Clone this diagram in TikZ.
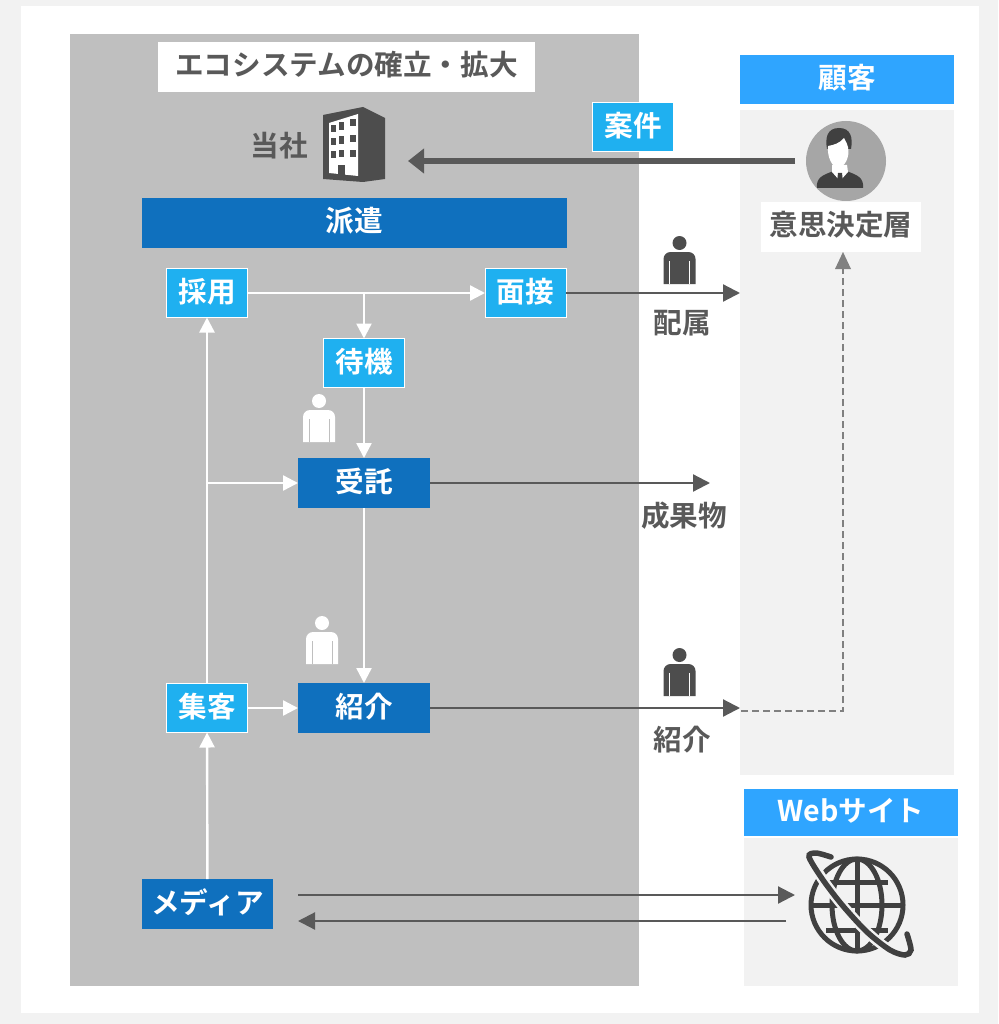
\documentclass[tikz,border=0pt]{standalone}
\usepackage{fontspec}
\setmainfont{Noto Sans CJK JP}[BoldFont={Noto Sans CJK JP Bold}]
\usepackage{tikz}
\usetikzlibrary{arrows.meta}

\definecolor{textGray}{HTML}{595959}
\definecolor{panelGray}{HTML}{F2F2F2}
\definecolor{mainGray}{HTML}{BFBFBF}
\definecolor{iconGray}{HTML}{404040}
\definecolor{iconDark}{HTML}{4D4D4D}
\definecolor{deepBlue}{HTML}{0F70BE}
\definecolor{lightBlue}{HTML}{1FB0F0}
\definecolor{headBlue}{HTML}{2FA5FF}

\tikzset{
  label/.style={font=\fontsize{28.6}{30}\selectfont\bfseries, inner sep=0pt, outer sep=0pt, align=center, text height=24pt, text depth=6pt},
  grayLabel/.style={label, text=textGray},
  whiteBox/.style={label, fill=white, text=textGray, minimum height=50pt},
  lightBox/.style={label, fill=lightBlue, draw=white, line width=1pt, text=white, minimum width=81pt, minimum height=49pt},
  deepBox/.style={label, fill=deepBlue, text=white, minimum height=50pt},
  headBox/.style={label, fill=headBlue, text=white, minimum width=214pt},
  whiteFlow/.style={white, line width=2.4pt, -{Triangle[length=15pt,width=15pt]}},
  darkFlow/.style={textGray, line width=2.2pt, -{Triangle[length=17pt,width=17pt]}},
  dashFlow/.style={gray, line width=2pt, dashed, dash pattern=on 7pt off 4pt},
  pics/person/.style 2 args={code={
    \fill[#1] (0,-41) circle (7);
    \fill[#1] (-16,0) [rounded corners=7pt] -- (-16,-32) -- (16,-32) [sharp corners] -- (16,0) -- cycle;
    \draw[#2, line width=1pt] (-10,0) -- (-10,-23);
    \draw[#2, line width=1pt] (10,0) -- (10,-23);
  }},
}

\begin{document}
\begin{tikzpicture}[x=1pt,y=-1pt]
  \useasboundingbox (0,0) rectangle (998,1024);
  \fill[panelGray] (0,0) rectangle (998,1024);
  \fill[white] (21,6) rectangle (979,1013);
  \fill[mainGray] (70,34) rectangle (639,986);
  \fill[panelGray] (740,110) rectangle (954,775);
  \fill[panelGray] (744,838) rectangle (958,986);

  % titles
  \node[whiteBox, minimum width=377pt] (Title) at (346.5,67) {エコシステムの確立・拡大};
  \node[deepBox, minimum width=425pt] (Haken) at (354.5,223) {派遣};
  \node[headBox, minimum height=49pt] (Kokyaku) at (847,79.5) {顧客};
  \node[headBox, minimum height=47pt] (Web) at (851,812.5) {Webサイト};

  % company
  \node[grayLabel] (Tosha) at (279,148) {当社};
  \fill[iconDark] (323,115) -- (363,107) -- (385,118) -- (385,179) -- (363,182) -- (323,179) -- cycle;
  \fill[white] (329,123) -- (358,114) -- (358,176) -- (329,173) -- cycle;
  \foreach \winX/\winW/\rowA/\rowB/\rowC in {331/4.5/125/138/151, 338.5/5.5/122.5/136.5/150, 349.5/6.5/119/135/150}{
    \foreach \winY in {\rowA,\rowB,\rowC}{
      \fill[iconDark] (\winX,\winY) rectangle ++(\winW,7.5);
    }
  }
  \fill[iconDark] (338,165) rectangle (345,175);

  % customer
  \node[circle, fill=black!35, minimum size=80pt, inner sep=0pt, outer sep=0pt] (Avatar) at (846,161) {};
  \fill[iconGray] (817,188) .. controls (816,178) and (822,175) .. (834,171) -- (846,171) .. controls (858,175) and (864,178) .. (863,188) -- cycle;
  \fill[iconGray] (839,128) .. controls (827,128) and (825,138) .. (827,149) -- (851,149) .. controls (853,138) and (851,128) .. (839,128) -- cycle;
  \fill[white] (828,146) .. controls (834,145) and (840,143) .. (844,138) .. controls (846,141) and (847,144) .. (848,147) .. controls (850,157) and (845,167) .. (838,168) .. controls (832,167) and (827,157) .. (828,146) -- cycle;
  \fill[white] (832,165) -- (847,165) -- (848,172) -- (840,181) -- (832,172) -- cycle;
  \fill[iconGray] (838,173) -- (842,173) -- (843,182) -- (840,186) -- (837,182) -- cycle;
  \node[whiteBox, minimum width=160pt] (Ishi) at (841,227) {意思決定層};

  % boxes
  \node[lightBox] (Anken) at (633,127.5) {案件};
  \node[lightBox] (Saiyo) at (207,293) {採用};
  \node[lightBox] (Mensetsu) at (525.5,293) {面接};
  \node[lightBox] (Taiki) at (364,363) {待機};
  \node[lightBox] (Shukyaku) at (207,708) {集客};
  \node[deepBox, minimum width=132pt] (Jutaku) at (364,483) {受託};
  \node[deepBox, minimum width=132pt] (Shokai) at (364,708) {紹介};
  \node[deepBox, minimum width=131pt] (Media) at (207.5,904) {メディア};

  % outer labels
  \node[grayLabel] (Haizoku) at (682,324.5) {配属};
  \node[grayLabel] (Seika) at (684,517) {成果物};
  \node[grayLabel] (ShokaiOut) at (682,741) {紹介};

  % people
  \pic at (319,442) {person={white}{mainGray}};
  \pic at (322,664) {person={white}{mainGray}};
  \pic at (679.5,284) {person={iconDark}{white}};
  \pic at (679.5,696) {person={iconDark}{white}};

  % free ends
  \coordinate (AnkenStart) at (795,161);
  \coordinate (AnkenEnd) at (408,161);
  \coordinate (HaizokuEnd) at (740,293);
  \coordinate (SeikaEnd) at (710,483);
  \coordinate (ShokaiEnd) at (740,708);
  \coordinate (DashStart) at (741,711);
  \coordinate (DashCorner) at (843,711);
  \coordinate (DashEnd) at (843,252);
  \coordinate (Branch) at (207,483);
  \coordinate (MediaOut) at (298,895);
  \coordinate (GlobeIn) at (795,895);
  \coordinate (GlobeOut) at (786,921);
  \coordinate (MediaIn) at (298,921);

  % connectors
  \draw[textGray, line width=6pt, -{Triangle[length=16pt,width=24pt]}] (AnkenStart) -- (AnkenEnd);
  \draw[whiteFlow] (Saiyo) -- (Mensetsu);
  \draw[whiteFlow] (Saiyo.east) -| (Taiki.north);
  \draw[whiteFlow] (Taiki) -- (Jutaku);
  \draw[whiteFlow] (Jutaku) -- (Shokai);
  \draw[whiteFlow] (Shukyaku) -- (Saiyo);
  \draw[whiteFlow] (Branch) -- (Jutaku);
  \draw[whiteFlow] (Shukyaku) -- (Shokai);
  \draw[whiteFlow] (Media) -- (Shukyaku);
  \draw[darkFlow] (Mensetsu) -- (HaizokuEnd);
  \draw[darkFlow] (Jutaku) -- (SeikaEnd);
  \draw[darkFlow] (Shokai) -- (ShokaiEnd);
  \draw[darkFlow] (MediaOut) -- (GlobeIn);
  \draw[darkFlow] (GlobeOut) -- (MediaIn);
  \draw[dashFlow] (DashStart) -- (DashCorner) -- (DashEnd);
  \fill[gray] (DashEnd) -- ++(-8,17) -- ++(16,0) -- cycle;

  % globe
  \begin{scope}[iconGray, line width=5pt]
    \draw (857,905) circle (46);
    \draw (857,905) ellipse (25 and 46);
    \draw (857,859) -- (857,951);
    \draw (811,905) -- (903,905);
    \draw (826,882) -- (888,882);
    \draw (826,930) -- (888,930);
  \end{scope}
  \draw[panelGray, line width=10.5pt] plot[smooth] coordinates {(809,856) (823,880) (843,906) (867,932) (890,950) (910,954)};
  \draw[iconGray, line width=5.5pt, line cap=round] plot[smooth] coordinates {(831,857) (816,853) (809,857) (823,880) (843,906) (867,932) (890,950) (905,955) (911,950) (907,934)};
\end{tikzpicture}
\end{document}
